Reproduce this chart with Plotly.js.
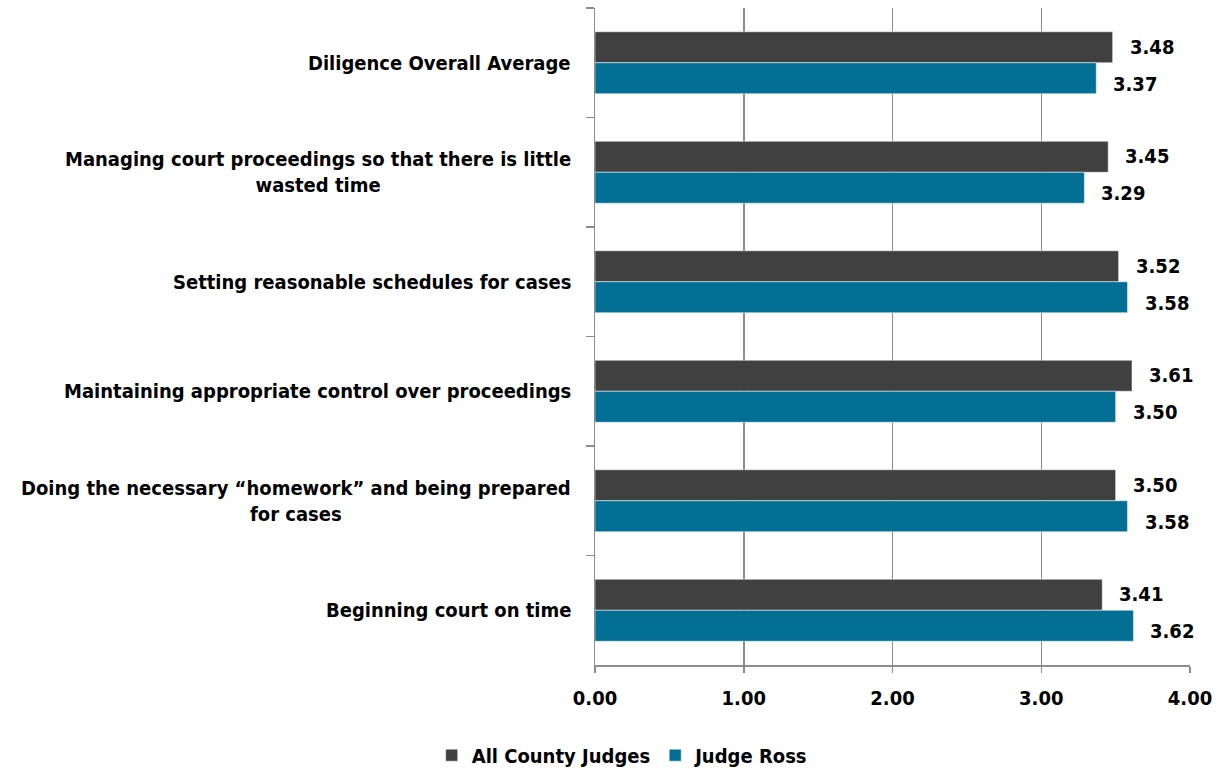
<!DOCTYPE html>
<html><head><meta charset="utf-8">
<script src="https://cdn.plot.ly/plotly-3.0.1.min.js"></script>
<style>html,body{margin:0;padding:0;background:#fff;}#chart{width:1220px;height:769px;}</style>
</head><body><div id="chart"></div>
<script>
const categories = [
  "Diligence Overall Average",
  "Managing court proceedings so that there is little<br>wasted time",
  "Setting reasonable schedules for cases",
  "Maintaining appropriate control over proceedings",
  "Doing the necessary \u201chomework\u201d and being prepared<br>for cases",
  "Beginning court on time"
];
const allCountyJudges = [3.48, 3.45, 3.52, 3.61, 3.50, 3.41];
const judgeRoss = [3.37, 3.29, 3.58, 3.50, 3.58, 3.62];
const seriesNames = ["All County Judges", "Judge Ross"];
const xTicks = [0, 1, 2, 3, 4];
const xTickLabels = ["0.00", "1.00", "2.00", "3.00", "4.00"];

const FONT = "'DejaVu Sans Condensed', 'Liberation Sans Narrow', 'Arial Narrow', sans-serif";
const colors = ["#404040", "#036F94"];
const f = (size) => ({family: FONT, size: size, color: "#000", weight: "bold"});

const traces = [allCountyJudges, judgeRoss].map((vals, i) => ({
  type: "bar", orientation: "h", name: seriesNames[i],
  x: vals, y: categories,
  marker: {color: colors[i], line: {color: "#ffffff", width: 0.5}},
  hoverinfo: "x+name"
}));

const annotations = [];
categories.forEach((c) => {
  annotations.push({
    xref: "paper", yref: "y", x: 0, y: c, xanchor: "right", yanchor: "middle",
    xshift: -22, text: c, showarrow: false, align: "center",
    font: f(20)
  });
});
[allCountyJudges, judgeRoss].forEach((vals, i) => {
  vals.forEach((v, j) => {
    annotations.push({
      xref: "x", yref: "y", x: v, y: categories[j], xanchor: "left", yanchor: "middle",
      xshift: 15, yshift: i === 0 ? 16 : -21,
      text: v.toFixed(2), showarrow: false,
      font: f(20)
    });
  });
});

const layout = {
  width: 1220, height: 769,
  margin: {l: 595, r: 30, t: 8, b: 104},
  paper_bgcolor: "#fff", plot_bgcolor: "#fff",
  barmode: "group", bargap: 0.434, bargroupgap: 0,
  showlegend: true,
  legend: {
    orientation: "h", xref: "container", yref: "container",
    x: 0.51, y: 0.018, xanchor: "center", yanchor: "middle",
    font: f(20),
    itemwidth: 30, traceorder: "normal"
  },
  xaxis: {
    range: [0, 4], tickvals: xTicks, ticktext: xTickLabels,
    showgrid: true, gridcolor: "#8c8c8c", gridwidth: 1.5,
    showline: true, linecolor: "#8c8c8c", linewidth: 1.5,
    ticks: "outside", ticklen: 6, tickcolor: "#8c8c8c", tickwidth: 1.5,
    ticklabelstandoff: 8,
    tickfont: f(20),
    zeroline: false, fixedrange: true
  },
  yaxis: {
    type: "category", autorange: "reversed",
    showticklabels: false, showgrid: false,
    showline: true, linecolor: "#8c8c8c", linewidth: 1.5,
    ticks: "outside", ticklen: 8, tickcolor: "#8c8c8c", tickwidth: 1.5,
    tickson: "boundaries", zeroline: false, fixedrange: true
  },
  annotations: annotations
};

Plotly.newPlot("chart", traces, layout, {displayModeBar: false, staticPlot: true});
</script></body></html>
